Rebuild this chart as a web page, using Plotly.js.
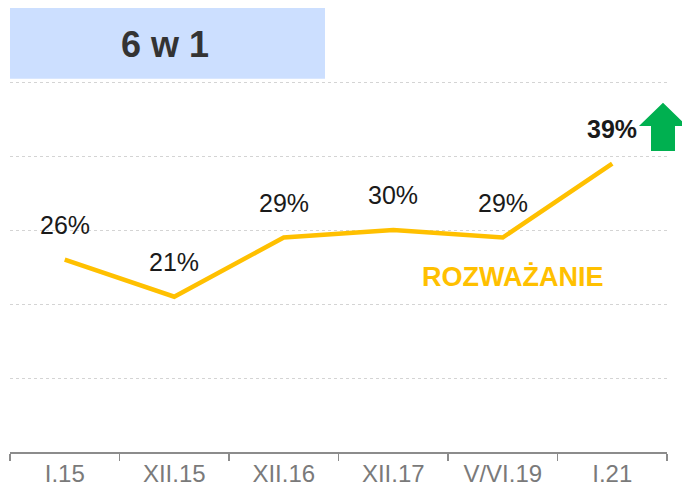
<!DOCTYPE html>
<html>
<head>
<meta charset="utf-8">
<script src="https://cdn.plot.ly/plotly-3.0.1.min.js"></script>
<style>html,body{margin:0;padding:0;background:#fff;}#chart{width:682px;height:491px;}</style>
</head>
<body>
<div id="chart"></div>
<script>
var categories = ["I.15", "XII.15", "XII.16", "XII.17", "V/VI.19", "I.21"];
var values = [26, 21, 29, 30, 29, 39];
var labels = ["26%", "21%", "29%", "30%", "29%", "39%"];
var titleText = "6 w 1";
var seriesName = "ROZWAŻANIE";

var FONT = "'Liberation Sans', Arial, sans-serif";
var W = 682, H = 491, ML = 10, MR = 15, MT = 80, MB = 39;
var PW = W - ML - MR, PH = H - MT - MB;
function px(x) { return (x - ML) / PW; }
function py(y) { return (H - MB - y) / PH; }

var trace = {
  x: categories,
  y: values,
  type: "scatter",
  mode: "lines",
  line: { color: "#FFC000", width: 4.5 },
  hoverinfo: "skip",
  cliponaxis: false
};

var annotations = categories.map(function (c, i) {
  var last = i === categories.length - 1;
  return {
    x: c, y: values[i], xref: "x", yref: "y",
    xanchor: "center", yanchor: "middle",
    text: last ? "<b>" + labels[i] + "</b>" : labels[i],
    showarrow: false, yshift: 35,
    font: { family: FONT, size: 25, color: "#1a1a1a" }
  };
});
annotations.push({
  x: px(513), y: py(277), xref: "paper", yref: "paper",
  xanchor: "center", yanchor: "middle",
  text: "<b>" + seriesName + "</b>", showarrow: false,
  font: { family: FONT, size: 27, color: "#FFC000" }
});
annotations.push({
  x: px(165), y: py(44), xref: "paper", yref: "paper",
  xanchor: "center", yanchor: "middle",
  text: "<b>" + titleText + "</b>", showarrow: false,
  font: { family: FONT, size: 36, color: "#333333" }
});

var arrowPts = [[663, 102.7], [687, 126], [675, 126], [675, 151], [651, 151], [651, 126], [639, 126]];
var arrowPath = arrowPts.map(function (p, i) {
  return (i ? "L" : "M") + px(p[0]).toFixed(5) + "," + py(p[1]).toFixed(5);
}).join(" ") + " Z";

var shapes = [
  { type: "rect", xref: "paper", yref: "paper",
    x0: px(10), x1: px(325), y0: py(78.7), y1: py(8),
    fillcolor: "#CCDFFF", line: { width: 0 }, layer: "below" },
  { type: "path", xref: "paper", yref: "paper", path: arrowPath,
    fillcolor: "#00B050", line: { width: 0 } }
];

var layout = {
  width: W, height: H,
  margin: { l: ML, r: MR, t: MT, b: MB, pad: 0 },
  paper_bgcolor: "#ffffff", plot_bgcolor: "#ffffff",
  showlegend: false,
  font: { family: FONT },
  xaxis: {
    type: "category",
    range: [-0.5, categories.length - 0.5],
    tickson: "boundaries",
    ticks: "outside", ticklen: 7, tickwidth: 1.5, tickcolor: "#8c8c8c",
    showline: true, linecolor: "#8c8c8c", linewidth: 1.5,
    showgrid: false, zeroline: false,
    tickfont: { family: FONT, size: 24, color: "#7a7a7a" },
    fixedrange: true
  },
  yaxis: {
    range: [0, 50.3], dtick: 10, tick0: 0,
    showticklabels: false, ticks: "",
    showgrid: true, gridcolor: "#d4d4d4", gridwidth: 1, griddash: "dot",
    zeroline: false, showline: false, fixedrange: true
  },
  annotations: annotations,
  shapes: shapes
};

Plotly.newPlot("chart", [trace], layout, { displayModeBar: false, staticPlot: true });
</script>
</body>
</html>
